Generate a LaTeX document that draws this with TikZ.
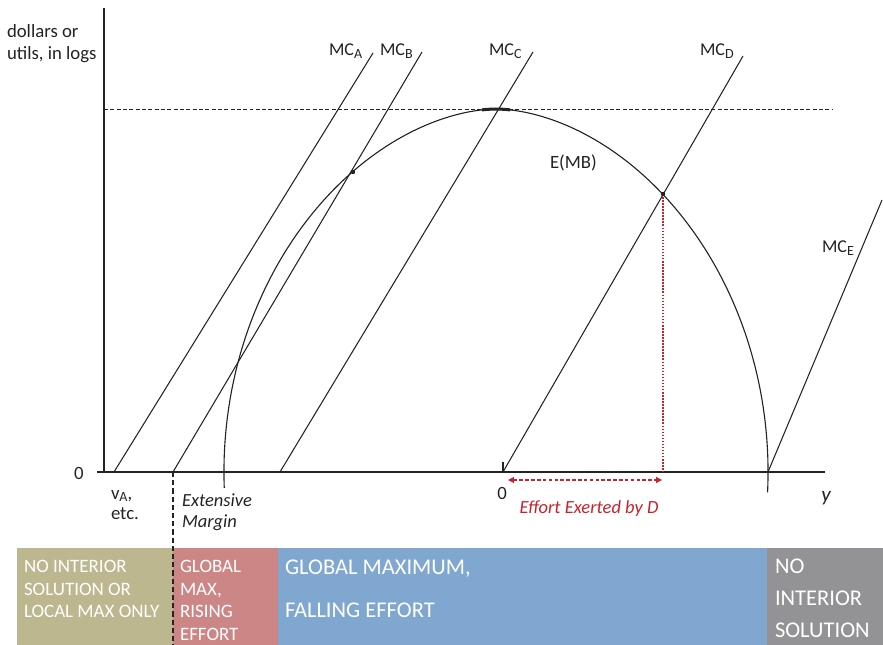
\documentclass[tikz,border=0pt]{standalone}
\usepackage{fontspec}
\setmainfont{Carlito}
\usetikzlibrary{arrows.meta}
\definecolor{olivebox}{RGB}{188,183,143}
\definecolor{redbox}{RGB}{204,134,134}
\definecolor{bluebox}{RGB}{128,167,207}
\definecolor{graybox}{RGB}{147,147,150}
\definecolor{effred}{RGB}{197,35,45}
\definecolor{ink}{RGB}{35,35,35}
\newcommand\mcsub[1]{\raisebox{-0.35ex}{\fontsize{12}{12}\selectfont #1}}
\begin{document}
\begin{tikzpicture}[x=0.03cm,y=-0.03cm,
  txt/.style={inner sep=0pt,outer sep=0pt,text=ink,font=\fontsize{16}{19}\selectfont},
  mclbl/.style={inner sep=0pt,outer sep=0pt,text=ink,font=\fontsize{15.4}{18}\selectfont,anchor=base west},
  itxt/.style={txt,font=\fontsize{15.8}{19}\selectfont\itshape},
  boxsmall/.style={inner sep=0pt,outer sep=0pt,text=white,font=\fontsize{16.2}{19}\selectfont,anchor=base west},
  boxbig/.style={inner sep=0pt,outer sep=0pt,text=white,font=\fontsize{19.2}{22}\selectfont,anchor=base west},
  mcline/.style={draw=ink,line width=0.9pt},
  curveline/.style={draw=ink,line width=0.95pt},
  hdash/.style={draw=ink,line width=0.7pt,dash pattern=on 3.4pt off 2pt},
  vdash/.style={draw=ink,line width=1pt,dash pattern=on 4.5pt off 2.5pt},
  reddot/.style={draw=effred,line width=1.2pt,dash pattern=on 1.3pt off 1.3pt},
  redarrow/.style={draw=effred,line width=0.9pt,dash pattern=on 3pt off 2pt,
     {Triangle[length=5pt,width=5pt]}-{Triangle[length=5pt,width=5pt]}}
]
\useasboundingbox (0,0) rectangle (883,645);

% bottom boxes
\fill[olivebox] (17,548) rectangle (173,645);
\fill[redbox] (173,548) rectangle (278,645);
\fill[bluebox] (278,548) rectangle (767,645);
\fill[graybox] (767,548) rectangle (883,645);

% coordinates
\coordinate (yaxtop) at (104,8);
\coordinate (yaxbot) at (104,472);
\coordinate (xaxl) at (97,472);
\coordinate (xaxr) at (825,472);
\coordinate (hdl) at (104,109);
\coordinate (hdr) at (832,109);
\coordinate (mcA0) at (114,472);
\coordinate (mcA1) at (373,53);
\coordinate (mcB0) at (173,472);
\coordinate (mcB1) at (422,52);
\coordinate (mcC0) at (280,472);
\coordinate (mcC1) at (533,52);
\coordinate (mcD0) at (503,472);
\coordinate (mcD1) at (743,56);
\coordinate (mcE0) at (768,472);
\coordinate (mcE1) at (882,200);
\coordinate (tick0) at (503,462);
\coordinate (extTop) at (173,472);
\coordinate (extBot) at (173,645);
\coordinate (ptD) at (663,194);
\coordinate (ptDbase) at (663,472);
\coordinate (arrL) at (508,480);
\coordinate (arrR) at (662,480);

% dashed horizontal
\draw[hdash] (hdl) -- (hdr);

% axes
\draw[draw=ink,line width=1.2pt] (yaxtop) -- (yaxbot);
\draw[draw=ink,line width=1.9pt] (xaxl) -- (xaxr);

% MC lines
\draw[mcline] (mcA0) -- (mcA1);
\draw[mcline] (mcB0) -- (mcB1);
\draw[mcline] (mcC0) -- (mcC1);
\draw[mcline] (mcD0) -- (mcD1);
\draw[mcline] (mcE0) -- (mcE1);
\draw[mcline] (tick0) -- (mcD0);

% E(MB) curve
\draw[curveline] plot[domain=-3.2:182.5,samples=240,variable=\t]
  ({496+272*cos(\t)*(abs(cos(\t))+0.0001)^0.1111},{472-363*sin(\t)});
\draw[draw=ink,line width=2.6pt] plot[domain=86:94,samples=10,variable=\t]
  ({496+272*cos(\t)*(abs(cos(\t))+0.0001)^0.1111},{472-363*sin(\t)});

% extensive margin dashed
\draw[vdash] (extTop) -- (extBot);

% effort by D
\draw[reddot] (ptD) -- (ptDbase);
\draw[redarrow] (arrL) -- (arrR);

% dots
\fill[ink] (353,172) circle (2.2);
\fill[ink] (ptD) circle (2.2);

% labels
\node[txt,anchor=base west] (yl1) at (7,37) {dollars or};
\node[txt,anchor=base west] (yl2) at (7,59) {utils, in logs};
\node[txt,anchor=base] (zero) at (79,479) {0};
\node[txt,anchor=base] (zero2) at (502,499) {0};
\node[txt,anchor=base west] (va) at (111,499) {v\raisebox{-0.25ex}{\fontsize{12}{12}\selectfont A},};
\node[txt,anchor=base west] (etc) at (111,519) {etc.};
\node[itxt,anchor=base west] (ext1) at (182,506) {Extensive};
\node[itxt,anchor=base west] (ext2) at (182,527) {Margin};
\node[itxt,anchor=base,font=\fontsize{18}{20}\selectfont\itshape] (ylab) at (826,501) {y};
\node[itxt,anchor=base,text=effred] (eff) at (589,513) {Effort Exerted by D};
\node[txt,anchor=base west] (emb) at (550,168) {E(MB)};

\node[mclbl] (lA) at (329,55) {MC\mcsub{A}};
\node[mclbl] (lB) at (380,55) {MC\mcsub{B}};
\node[mclbl] (lC) at (489,55) {MC\mcsub{C}};
\node[mclbl] (lD) at (700,55) {MC\mcsub{D}};
\node[mclbl] (lE) at (822,252) {MC\mcsub{E}};

% box texts
\node[boxsmall] (o1) at (24,572) {NO INTERIOR};
\node[boxsmall] (o2) at (24,595) {SOLUTION OR};
\node[boxsmall] (o3) at (24,617) {LOCAL MAX ONLY};
\node[boxsmall] (r1) at (180,572) {GLOBAL};
\node[boxsmall] (r2) at (180,595) {MAX,};
\node[boxsmall] (r3) at (180,617) {RISING};
\node[boxsmall] (r4) at (180,640) {EFFORT};
\node[boxbig] (b1) at (285,574) {GLOBAL MAXIMUM,};
\node[boxbig] (b2) at (285,617) {FALLING EFFORT};
\node[boxbig] (g1) at (775,573) {NO};
\node[boxbig] (g2) at (775,605) {INTERIOR};
\node[boxbig] (g3) at (775,637) {SOLUTION};
\end{tikzpicture}
\end{document}
